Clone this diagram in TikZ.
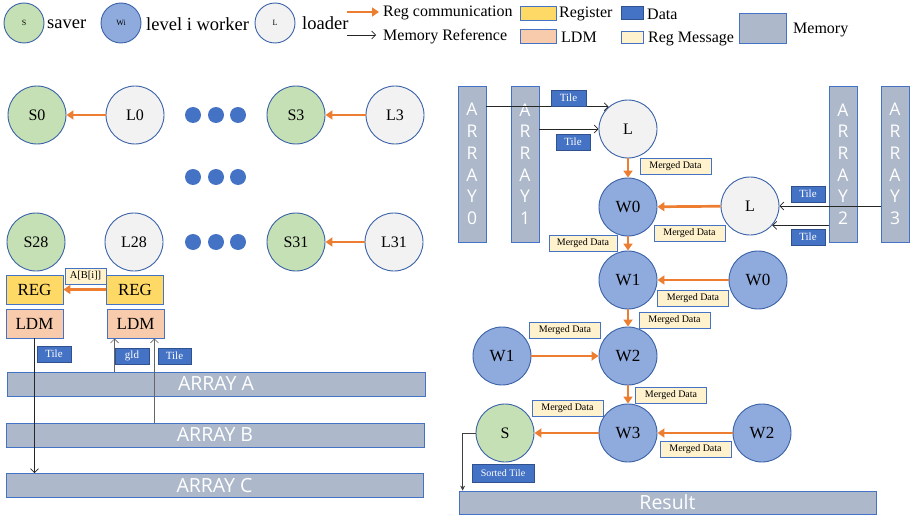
\documentclass[tikz,border=0pt]{standalone}
\usepackage{fontspec}
\setmainfont{Liberation Serif}
\newfontfamily\memfont{Open Sans}
\usetikzlibrary{arrows.meta,calc}

\definecolor{edgeblue}{HTML}{3A62A8}
\definecolor{boxblue}{HTML}{4472C4}
\definecolor{databorder}{HTML}{2F528F}
\definecolor{regorange}{HTML}{ED7D31}
\definecolor{saverfill}{HTML}{C5E0B4}
\definecolor{workerfill}{HTML}{8FAADC}
\definecolor{loaderfill}{HTML}{F2F2F2}
\definecolor{regfill}{HTML}{FFD966}
\definecolor{ldmfill}{HTML}{F8CBAD}
\definecolor{msgfill}{HTML}{FFF2CC}
\definecolor{memfill}{HTML}{ADB9CA}

\newcommand\pxfont[1]{\fontsize{#1}{#1}\selectfont}

\tikzset{
  core/.style={circle, draw=edgeblue, line width=0.9pt, minimum size=58pt,
    inner sep=0pt, font=\pxfont{16}},
  saver/.style={core, fill=saverfill},
  worker/.style={core, fill=workerfill, font=\pxfont{17}},
  loader/.style={core, fill=loaderfill},
  mini/.style={minimum size=40pt, font=\pxfont{8}},
  regbox/.style={draw=boxblue, line width=0.8pt, fill=regfill, minimum width=57pt,
    minimum height=29pt, inner sep=0pt, font=\pxfont{17}},
  ldmbox/.style={regbox, fill=ldmfill},
  datatag/.style={draw=databorder, line width=0.8pt, fill=boxblue, text=white, inner sep=0pt,
    minimum width=34pt, minimum height=16pt, font=\pxfont{11}},
  msgtag/.style={draw=boxblue, line width=0.8pt, fill=msgfill, inner sep=0pt, minimum width=71pt,
    minimum height=16pt, font=\pxfont{10}},
  memh/.style={draw=boxblue, line width=0.8pt, fill=memfill, minimum width=418pt,
    minimum height=24pt, inner sep=0pt, text=white, font=\memfont\pxfont{19.5}},
  memv/.style={draw=boxblue, line width=0.8pt, fill=memfill, minimum width=28pt,
    minimum height=156pt, inner sep=0pt, text=white, align=center,
    font=\memfont\fontsize{17.5}{21.7}\selectfont},
  regarrow/.style={draw=regorange, line width=2.7pt, -{Triangle[length=7pt,width=9pt]}},
  memarrow/.style={draw=black!85, line width=0.7pt, -{Straight Barb[length=4pt,width=8pt]}},
  ellipsisdot/.style={circle, fill=boxblue, minimum size=16pt, inner sep=0pt},
  legtext/.style={anchor=west, inner sep=0pt, font=\pxfont{18.5}},
  legtextsmall/.style={anchor=west, inner sep=0pt, font=\pxfont{16}},
}

\begin{document}
\begin{tikzpicture}[x=1pt,y=-1pt]
\useasboundingbox (0,0) rectangle (912,516);

% ---------- legend ----------
\node[saver, mini] (lgS) at (24,23) {S};
\node[legtext] (lgSt) at (47,24) {saver};
\node[worker, mini] (lgW) at (121,23) {Wi};
\node[legtext] (lgWt) at (146,24) {level i worker};
\node[loader, mini] (lgL) at (275,23) {L};
\node[legtext] (lgLt) at (302,23) {loader};
\coordinate (lgRa) at (347,12);
\coordinate (lgRb) at (379,12);
\draw[regarrow, line width=2.8pt] (lgRa) -- (lgRb);
\node[legtextsmall] (lgRt) at (383,13) {Reg communication};
\coordinate (lgMa) at (347,35);
\coordinate (lgMb) at (376,35);
\draw[memarrow] (lgMa) -- (lgMb);
\node[legtextsmall] (lgMt) at (383,37) {Memory Reference};
\node[regbox, minimum width=36pt, minimum height=14pt] (lgReg) at (538,13) {};
\node[legtextsmall] (lgRegt) at (559,14) {Register};
\node[ldmbox, minimum width=36pt, minimum height=14pt] (lgLdm) at (538,36) {};
\node[legtextsmall] (lgLdmt) at (561,37) {LDM};
\node[datatag, minimum width=22pt, minimum height=13pt] (lgData) at (632,12.5) {};
\node[legtextsmall] (lgDatat) at (647,14) {Data};
\node[msgtag, minimum width=22pt, minimum height=12pt] (lgMsg) at (632,37) {};
\node[legtextsmall] (lgMsgt) at (648,39) {Reg Message};
\node[memh, minimum width=47pt, minimum height=30pt] (lgMem) at (762.5,28) {};
\node[legtextsmall] (lgMemt) at (793,30) {Memory};

% ---------- left: cores, registers, LDM, memory ----------
\node[saver] (s0) at (37,115) {S0};
\node[loader] (l0) at (135,115) {L0};
\node[saver] (s3) at (296,115) {S3};
\node[loader] (l3) at (395,115) {L3};
\node[saver] (s28) at (36,242) {S28};
\node[loader] (l28) at (134,242) {L28};
\node[saver] (s31) at (296,242) {S31};
\node[loader] (l31) at (394,242) {L31};
\foreach \y/\r in {115/a,177/b,242/c}{
  \node[ellipsisdot] (d\r1) at (193,\y) {};
  \node[ellipsisdot] (d\r2) at (216,\y) {};
  \node[ellipsisdot] (d\r3) at (238,\y) {};
}
\draw[regarrow] (l0) -- (s0);
\draw[regarrow] (l3) -- (s3);
\draw[regarrow] (l31) -- (s31);

\node[regbox] (regL) at (34.5,289.5) {REG};
\node[regbox] (regR) at (135,289.5) {REG};
\node[ldmbox] (ldmL) at (34.5,323.5) {LDM};
\node[ldmbox] (ldmR) at (135.5,323.5) {LDM};
\draw[regarrow] (regR) -- (regL);
\node[msgtag, minimum width=41pt, font=\pxfont{10.5}] (abi) at (85.5,276) {A[B[i]]};

\node[memh] (arrA) at (216,384) {ARRAY A};
\node[memh] (arrB) at (215,435) {ARRAY B};
\node[memh, minimum width=417pt] (arrC) at (214.5,485.5) {ARRAY C};

\draw[memarrow] (ldmL.south) -- (ldmL.south |- arrC.north);
\coordinate (gldfoot) at ($(ldmR.south west)+(8,0)$);
\coordinate (tilefoot) at ($(ldmR.south east)+(-10,0)$);
\draw[memarrow, draw=black!60] (gldfoot |- arrA.north) -- (gldfoot);
\draw[memarrow, draw=black!60] (tilefoot |- arrB.north) -- (tilefoot);
\node[datatag] (tagL) at (54,354) {Tile};
\node[datatag] (tagGld) at (132,356) {gld};
\node[datatag, minimum width=33pt] (tagR) at (174.5,356) {Tile};

% ---------- right: merge tree ----------
\node[memv] (a0) at (472,164) {A\\R\\R\\A\\Y\\0};
\node[memv] (a1) at (525,164) {A\\R\\R\\A\\Y\\1};
\node[memv] (a2) at (843,164) {A\\R\\R\\A\\Y\\2};
\node[memv] (a3) at (895,164) {A\\R\\R\\A\\Y\\3};

\node[loader] (lt) at (628,129) {L};
\node[worker] (w0) at (628,207) {W0};
\node[loader] (lr) at (750,206) {L};
\node[worker] (w1) at (628,280) {W1};
\node[worker] (w0r) at (758,280) {W0};
\node[worker] (w2) at (628,356) {W2};
\node[worker] (w1l) at (502,356) {W1};
\node[worker] (w3) at (628,433) {W3};
\node[worker] (w2r) at (762,433) {W2};
\node[saver] (sv) at (505,433) {S};

\node[memh, minimum width=417pt, minimum height=23pt] (res) at (667.5,502.5) {Result};

\draw[memarrow] (a0.east |- lt.131) -- (lt.131);
\draw[memarrow] (a1.east |- lt.west) -- (lt.west);
\draw[memarrow] (a3.west |- lr.east) -- (lr.east);
\draw[memarrow] (a2.west |- lr.-41) -- (lr.-41);
\node[datatag, minimum width=35pt] (tg1) at (568.5,98) {Tile};
\node[datatag] (tg2) at (573,142) {Tile};
\node[datatag] (tg3) at (808,194) {Tile};
\node[datatag] (tg4) at (808,237) {Tile};

\draw[regarrow] (lt) -- (w0);
\draw[regarrow] (lr) -- (w0);
\draw[regarrow] (w0) -- (w1);
\draw[regarrow] (w0r) -- (w1);
\draw[regarrow] (w1) -- (w2);
\draw[regarrow] (w1l) -- (w2);
\draw[regarrow] (w2) -- (w3);
\draw[regarrow] (w2r) -- (w3);
\draw[regarrow] (w3) -- (sv);

\node[msgtag] (m1) at (675.5,166) {Merged Data};
\node[msgtag] (m2) at (689.5,233) {Merged Data};
\node[msgtag, minimum width=68pt] (m3) at (583,243) {Merged Data};
\node[msgtag] (m4) at (693,298) {Merged Data};
\node[msgtag] (m5) at (674.5,320) {Merged Data};
\node[msgtag] (m6) at (565,330) {Merged Data};
\node[msgtag] (m7) at (671,395) {Merged Data};
\node[msgtag] (m8) at (695.5,449) {Merged Data};
\node[msgtag] (m9) at (567.5,408) {Merged Data};

\coordinate (resin) at ($(res.north west)+(4,0)$);
\draw[draw=black!75, line width=0.7pt, -{Stealth[length=5pt,width=5pt]}] (sv.west) -| (resin);
\node[datatag, minimum width=62pt, minimum height=18pt, font=\pxfont{10}] (sorted) at (503,473) {Sorted Tile};
\end{tikzpicture}
\end{document}
